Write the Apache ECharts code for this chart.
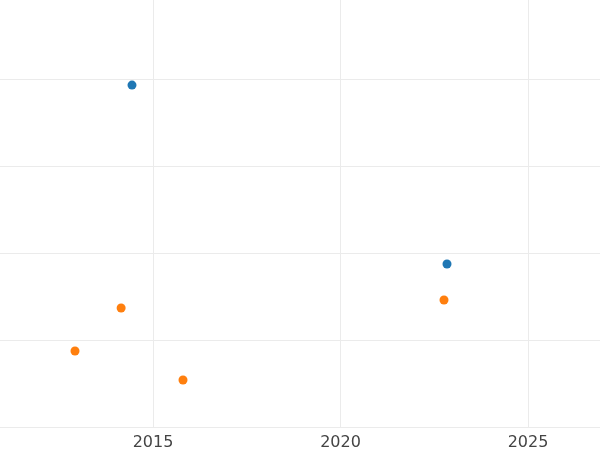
<!DOCTYPE html><html><head><meta charset="utf-8"><script src="https://cdn.jsdelivr.net/npm/echarts@6/dist/echarts.min.js"></script></head><body style="margin:0"><div id="c" style="width:600px;height:450px"></div><script>
const seriesA = [[2014.44,3.93],[2022.84,1.874]];
const seriesB = [[2014.15,1.368],[2012.92,0.874],[2015.8,0.54],[2022.76,1.46]];
const xTicks = [2015,2020,2025];
const ch = echarts.init(document.getElementById('c'));
ch.setOption({
  animation:false,
  grid:{left:-34.5,right:-3,top:-8,bottom:23,outerBoundsMode:'none',containLabel:false},
  xAxis:{type:'value',min:2010,max:2027,interval:5,
    axisLine:{show:false},axisTick:{show:false},
    splitLine:{lineStyle:{color:'#ebebeb'}},
    axisLabel:{fontSize:16,color:'#444',fontFamily:'DejaVu Sans',margin:8,
      formatter:v=>xTicks.includes(v)?String(v):''}},
  yAxis:{type:'value',min:0,max:5,interval:1,
    axisLine:{show:false},axisTick:{show:false},axisLabel:{show:false},
    splitLine:{lineStyle:{color:'#ebebeb'}}},
  series:[
    {type:'scatter',data:seriesA,symbolSize:9,itemStyle:{color:'#1f77b4',opacity:1}},
    {type:'scatter',data:seriesB,symbolSize:9,itemStyle:{color:'#ff7f0e',opacity:1}}
  ]
});
</script></body></html>
